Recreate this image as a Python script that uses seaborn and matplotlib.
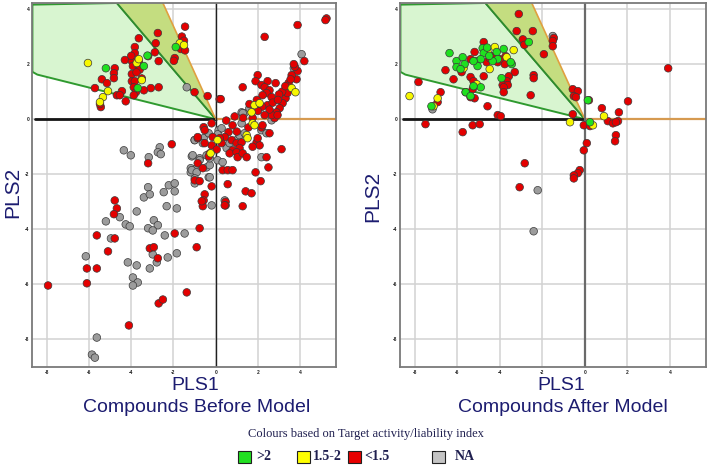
import matplotlib
matplotlib.use("Agg")
import matplotlib.pyplot as plt
from matplotlib.patches import Polygon, Rectangle
import seaborn as sns
import pandas as pd

# ---------------- data ----------------
CLASSES = ["NA", "<1.5", "1.5-2", ">2"]
LEGEND_LABELS = [">2", "1.5-2", "<1.5", "NA"]
X_TICKS = [-8, -6, -4, -2, 0, 2, 4]
Y_TICKS = [-8, -6, -4, -2, 0, 2, 4]
PANEL_TITLES = ["Compounds Before Model", "Compounds After Model"]

BEFORE_GRAY = [(-1.37, 1.16), (4.07, 2.36), (3.7, 1.85), (1.23, 0.25), (1.37, 0.22), (1.6, 0.4),
    (-4.35, -1.13), (-4.02, -1.31), (-2.65, -1.02), (-2.74, -1.2), (-2.6, -1.27), (-3.17, -1.38),
    (-1.13, -1.35), (-0.76, -1.42), (-0.43, -1.31), (-1.0, -0.76), (-0.57, -0.69), (-0.33, -0.51),
    (0.14, -0.4), (-1.18, -1.78), (-0.95, -1.82), (-1.18, -1.93), (-0.43, -1.75), (-0.28, -1.67),
    (-0.33, -2.11), (-3.2, -2.47), (-2.22, -2.4), (-1.94, -2.33), (-1.94, -2.62), (-3.4, -2.84),
    (-3.12, -2.73), (-2.46, -2.65), (-2.32, -3.16), (-1.84, -3.24), (-3.74, -3.35), (-4.54, -3.56),
    (-5.2, -3.71), (-4.26, -3.82), (-4.07, -3.89), (-2.93, -3.67), (-2.74, -3.85), (-3.2, -3.96),
    (-2.98, -4.04), (-2.41, -4.22), (-1.47, -4.15), (-4.96, -4.33), (-0.99, -2.33), (-0.19, -3.13),
    (-2.98, -4.91), (-2.27, -5.02), (-1.84, -4.87), (-6.15, -4.98), (-4.16, -5.2), (-3.74, -5.31),
    (-3.12, -5.42), (-2.79, -5.2), (-3.92, -5.75), (-3.69, -5.93), (-3.92, -6.04), (-5.63, -7.93),
    (-5.86, -8.55), (-5.72, -8.66), (0.28, -0.33), (0.09, -0.55), (-0.99, -0.76), (-0.61, -0.87),
    (-1.09, -1.31), (-0.76, -1.49), (-0.28, -1.42), (0.09, -1.49), (0.33, -1.56), (-1.13, -1.85),
    (-0.9, -1.93), (-0.99, -2.15), (-0.28, -2.11), (0.52, -1.05), (0.66, -0.87), (0.99, -0.76),
    (1.13, -0.58), (1.37, -0.51), (1.23, -0.15), (1.28, 0.22), (2.17, -0.4), (2.41, -0.51),
    (2.65, -0.04), (2.17, -1.38), (0.43, -2.95)]

BEFORE_RED = [(-1.45, 3.36), (-2.74, 3.13), (-1.6, 3.0), (-1.5, 2.85), (-1.65, 2.55), (-1.45, 2.5),
    (-3.64, 2.94), (-2.84, 2.76), (-3.83, 2.62), (-3.83, 2.4), (-3.2, 2.29), (-2.88, 2.43),
    (-2.7, 2.11), (-1.94, 2.22), (-1.98, 2.12), (-4.3, 2.15), (-3.97, 2.11), (-3.64, 2.11),
    (-3.92, 1.93), (-3.64, 1.9), (-3.6, 1.8), (-4.78, 1.85), (-4.82, 1.67), (-4.82, 1.49),
    (-3.97, 1.64), (-5.39, 1.45), (-5.15, 1.31), (-3.97, 1.38), (-3.83, 1.38), (-3.5, 1.48),
    (-5.72, 1.13), (-4.44, 1.02), (-3.88, 1.16), (-3.78, 0.98), (-3.4, 1.05), (-3.07, 1.13),
    (-2.7, 1.16), (-4.68, 0.87), (-4.54, 0.87), (-4.26, 0.65), (-3.88, 0.87), (-5.44, 0.44),
    (-5.48, 0.55), (-1.0, 0.98), (-0.38, 0.84), (0.19, 0.73), (-4.0, 2.3), (-3.75, 1.7),
    (5.25, 3.66), (5.2, 3.6), (3.88, 3.42), (2.32, 2.99), (4.2, 2.11), (3.88, 1.75), (3.83, 1.45),
    (3.45, 1.31), (3.31, 0.76), (3.17, 0.58), (3.03, 0.4), (2.88, 0.22), (2.79, 0.04), (1.99, 1.6),
    (1.89, 1.38), (2.46, 1.38), (2.84, 1.31), (2.17, 1.24), (2.32, 1.16), (2.55, 1.05), (2.41, 0.95),
    (2.65, 0.8), (2.22, 0.87), (1.28, 1.16), (0.24, 0.73), (2.46, 0.51), (2.88, 0.25), (2.65, 0.15),
    (3.6, 1.6), (3.75, 1.9), (3.4, 0.95), (3.15, 1.0), (2.7, 0.6), (1.75, 0.05), (1.3, 0.05),
    (0.9, 0.1), (0.5, -0.05), (1.6, 0.55), (3.7, 2.0), (3.55, 1.45), (3.3, 1.2), (3.0, 0.9),
    (2.95, 0.7), (2.55, 0.35), (2.2, 0.45), (1.95, 0.7), (2.0, 0.3),
    (-2.08, -0.91), (-3.2, -1.6), (-0.57, -0.29), (-0.52, -0.4), (-0.85, -0.69), (-0.19, -0.95),
    (0.05, -1.1), (-0.28, -1.24), (-0.33, -1.35), (-0.85, -1.6), (-0.61, -1.78), (-0.99, -2.22),
    (-0.76, -2.25), (-0.19, -2.44), (-0.52, -2.73), (-0.57, -2.95), (-0.61, -3.16), (-4.78, -2.95),
    (-4.68, -3.24), (-4.82, -3.45), (-5.63, -4.22), (-4.78, -4.33), (-1.94, -4.15), (-0.76, -3.96),
    (-0.66, -2.98), (0.47, -3.0), (0.47, -3.13), (1.28, -3.16), (-5.1, -4.8), (-6.1, -5.42),
    (-5.63, -5.42), (-6.1, -5.96), (-7.94, -6.04), (-3.12, -4.69), (-2.93, -4.65), (-2.74, -5.05),
    (-0.9, -4.65), (-1.37, -6.29), (-2.7, -6.69), (-2.5, -6.55), (-4.11, -7.49),
    (-0.19, -0.15), (0.8, -0.22), (0.61, -0.47), (0.43, -0.65), (0.76, -0.76), (0.99, -0.87),
    (1.23, -0.84), (1.13, -1.05), (0.8, -1.13), (0.66, -1.24), (0.99, -1.2), (1.04, -1.38),
    (1.28, -1.24), (1.47, -1.38), (1.94, -0.84), (2.08, -0.95), (1.99, -0.69), (2.17, -0.3),
    (2.22, -0.22), (2.55, -0.51), (2.32, 0.15), (2.93, 0.15), (3.12, -1.09), (2.41, -1.38),
    (2.5, -1.75), (1.89, -1.93), (2.13, -2.25), (0.33, -1.85), (0.57, -1.85), (0.8, -1.85),
    (0.57, -2.36), (1.42, -2.62), (1.7, -2.69), (0.43, -3.13), (-0.85, -0.65), (-0.52, -0.87),
    (0.28, -0.87), (-0.14, -0.65), (0.19, -0.69), (1.55, -0.3), (1.0, -0.45), (1.75, -1.0)]

BEFORE_YELLOW = [(-6.05, 2.04), (-3.74, 2.04), (-3.64, 2.18), (-5.1, 1.02), (-5.34, 0.8),
    (-5.48, 0.62), (-1.7, 2.76), (-1.5, 2.69), (-3.5, 1.42), (3.6, 1.13), (3.78, 0.98),
    (1.84, 0.51), (2.08, 0.58), (1.75, -0.15), (1.84, -0.22), (1.47, -0.58), (1.51, -0.69),
    (0.09, -0.76), (-0.24, -1.24), (1.7, 0.25)]

BEFORE_GREEN = [(-5.2, 1.85), (-3.4, 1.93), (-3.23, 2.31), (-3.69, 1.13), (-1.89, 2.62)]

AFTER_GRAY = [(-1.51, 3.02), (-3.77, 2.07), (-7.17, 0.36), (-2.22, -2.58), (-2.41, -4.07)]

AFTER_RED = [(-3.11, 3.82), (-3.21, 3.2), (-2.45, 3.2), (-2.92, 2.9), (-2.85, 2.7), (-1.46, 2.95),
    (-1.51, 2.84), (-1.51, 2.65), (-1.93, 2.36), (-4.76, 2.8), (-5.19, 2.44), (-4.34, 2.29),
    (-3.73, 2.29), (-3.77, 2.0), (-5.38, 2.18), (-4.62, 2.07), (-4.48, 2.22), (-4.29, 2.22),
    (-4.1, 2.07), (-4.01, 2.18), (-6.56, 1.78), (-6.18, 1.45), (-5.8, 1.71), (-5.38, 1.53),
    (-5.24, 1.38), (-4.76, 1.56), (-3.3, 1.71), (-3.58, 1.56), (-3.68, 1.38), (-3.87, 1.24),
    (-3.63, 1.24), (-3.82, 1.16), (-2.41, 1.6), (-2.41, 1.49), (-7.83, 1.35), (-6.79, 0.98),
    (-6.93, 0.62), (-5.61, 0.98), (-5.28, 1.09), (-5.19, 0.76), (-5.38, 0.8), (-3.82, 0.98),
    (-2.55, 0.87), (-4.58, 0.47), (-4.1, 0.15), (-3.96, 0.11), (-7.5, -0.18), (-5.28, -0.22),
    (-4.95, -0.18), (-0.57, 1.09), (-0.33, 1.02), (-0.52, 0.84), (-0.42, 0.8), (-0.57, 0.18),
    (-0.05, -0.22), (3.92, 1.85), (0.19, 0.69), (2.03, 0.65), (0.8, 0.4), (1.6, 0.25),
    (1.08, -0.07), (1.32, -0.15), (1.56, -0.07), (1.46, -0.11), (0.24, -0.25), (1.46, -0.58),
    (1.42, -0.8), (0.09, -0.87), (-0.05, -1.13), (-0.24, -1.85), (-0.33, -1.96), (-0.52, -2.04),
    (-0.52, -2.15), (-2.83, -1.6), (-3.07, -2.47), (-5.75, -0.47)]

AFTER_YELLOW = [(-3.35, 2.51), (-3.68, 2.25), (-4.24, 2.62), (-4.58, 2.44), (-4.48, 1.82),
    (-5.71, 1.85), (-5.09, 1.27), (-8.25, 0.84), (-6.93, 0.76), (-7.12, 0.47), (-0.7, -0.11),
    (0.9, 0.11), (0.38, -0.22)]

AFTER_GREEN = [(-6.37, 2.4), (-6.04, 2.11), (-5.75, 2.25), (-5.66, 2.0), (-6.04, 1.89),
    (-5.85, 1.82), (-4.81, 2.58), (-4.76, 2.4), (-5.09, 2.11), (-4.9, 2.18), (-5.05, 1.93),
    (-5.24, 2.11), (-4.15, 2.44), (-3.82, 2.55), (-4.1, 2.18), (-4.34, 2.11), (-3.44, 2.0),
    (-3.49, 2.07), (-2.64, 2.8), (-3.92, 1.49), (-4.9, 1.16), (-5.24, 1.2), (-5.61, 0.98),
    (-5.38, 0.84), (-7.22, 0.47), (0.24, -0.11), (0.14, 0.69), (-4.5, 2.3), (-4.6, 2.6)]

# ---------------- style ----------------
PALETTE = {"NA": "#9c9c9c", "<1.5": "#e40000", "1.5-2": "#f7f700", ">2": "#1fe01f"}
SQUARE_COLORS = {">2": "#22e022", "1.5-2": "#ffff00", "<1.5": "#e80000", "NA": "#c4c4c4"}
NAVY = "#1c1c70"


def frame(groups):
    rows = []
    for cls, pts in groups:
        for x, y in pts:
            rows.append({"PLS1": x, "PLS2": y, "cls": cls})
    return pd.DataFrame(rows)


df_before = frame([("NA", BEFORE_GRAY), ("<1.5", BEFORE_RED),
                   ("1.5-2", BEFORE_YELLOW), (">2", BEFORE_GREEN)])
df_after = frame([("NA", AFTER_GRAY), ("<1.5", AFTER_RED),
                  ("1.5-2", AFTER_YELLOW), (">2", AFTER_GREEN)])

sns.set_style("white")
plt.rcParams["font.family"] = ["Liberation Sans", "DejaVu Sans"]
plt.rcParams["axes.unicode_minus"] = False

fig = plt.figure(figsize=(7.08, 4.68), dpi=100)
ax1 = fig.add_axes([32 / 708, 1 - 367 / 468, 304 / 708, 364 / 468])
ax2 = fig.add_axes([400 / 708, 1 - 367 / 468, 306 / 708, 364 / 468])

for ax, df, vcol, vlw in [(ax1, df_before, "#202020", 1.0), (ax2, df_after, "#6a6a6a", 1.6)]:
    ax.set_xlim(-8.7, 5.7)
    ax.set_ylim(-9.0, 4.22)
    ax.set_xticks(X_TICKS)
    ax.set_yticks(Y_TICKS)
    ax.set_xticklabels([str(t) for t in X_TICKS])
    ax.set_yticklabels([str(t) for t in Y_TICKS])
    ax.tick_params(length=0, labelsize=3.5, pad=2.0, colors="#202020")
    for lab in ax.get_xticklabels() + ax.get_yticklabels():
        lab.set_fontweight("bold")
    ax.grid(True, color="#d2d2d2", linewidth=1.1, zorder=0)
    ax.set_axisbelow(True)
    for sp in ax.spines.values():
        sp.set_color("#7a7a7a")
        sp.set_linewidth(1.3)

    # model region polygons
    light = Polygon([(-8.68, 4.16), (-4.68, 4.22), (0, 0), (-8.45, 1.62), (-8.68, 1.72)],
                    closed=True, facecolor="#d8f5d0", edgecolor="#2f9a2f", linewidth=1.4, zorder=1)
    ax.add_patch(light)
    wedge = Polygon([(-4.68, 4.22), (-2.5, 4.22), (0, 0)], closed=True,
                    facecolor="#c4dd80", edgecolor="none", zorder=1.5)
    ax.add_patch(wedge)
    ax.plot([-4.68, 0], [4.22, 0], color="#2f8a2f", linewidth=1.3, zorder=2)
    ax.plot([-2.5, 0], [4.22, 0], color="#e0a040", linewidth=1.2, zorder=2)
    # axes lines
    ax.plot([-8.55, 0], [0, 0], color="#151515", linewidth=2.0, zorder=2)
    ax.plot([0, 5.7], [0, 0], color="#d69a50", linewidth=1.6, zorder=2)
    ax.axvline(0, color=vcol, linewidth=vlw, zorder=2)

    sns.scatterplot(data=df, x="PLS1", y="PLS2", hue="cls", hue_order=CLASSES,
                    palette=PALETTE, s=30, edgecolor="#3a3a3a", linewidth=0.5,
                    legend=False, ax=ax, zorder=5)
    ax.set_xlabel("")
    ax.set_ylabel("")

# axis labels and titles
for xc, yc in [(13 / 708, 1 - 192 / 468), (373 / 708, 1 - 196 / 468)]:
    fig.text(xc, yc, "PLS2", rotation=90, ha="center", va="center", color=NAVY, fontsize=15)
for xc, title in [(195, PANEL_TITLES[0]), (561, PANEL_TITLES[1])]:
    fig.text(xc / 708, 1 - 386 / 468, "PLS1", ha="center", va="center", color=NAVY, fontsize=14)
    fig.text((xc + 2) / 708, 1 - 408 / 468, title, ha="center", va="center", color=NAVY, fontsize=14)

# legend
fig.text(366 / 708, 1 - 434 / 468, "Colours based on Target activity/liability index",
         ha="center", va="center", color="#202050", fontsize=9,
         family=["Liberation Serif", "DejaVu Serif"])
sq_x = [238, 297, 348, 432]
txt_x = [256, 313, 364, 455]
for lab, sx, tx in zip(LEGEND_LABELS, sq_x, txt_x):
    fig.patches.append(Rectangle((sx / 708, 1 - 463 / 468), 13 / 708, 12 / 468,
                                 transform=fig.transFigure, facecolor=SQUARE_COLORS[lab],
                                 edgecolor="#202020", linewidth=0.8))
    fig.text(tx / 708, 1 - 457 / 468, lab, ha="left", va="center", color="#202050",
             fontsize=10, fontweight="bold", family=["Liberation Serif", "DejaVu Serif"])

fig.savefig("out.png", dpi=100)
